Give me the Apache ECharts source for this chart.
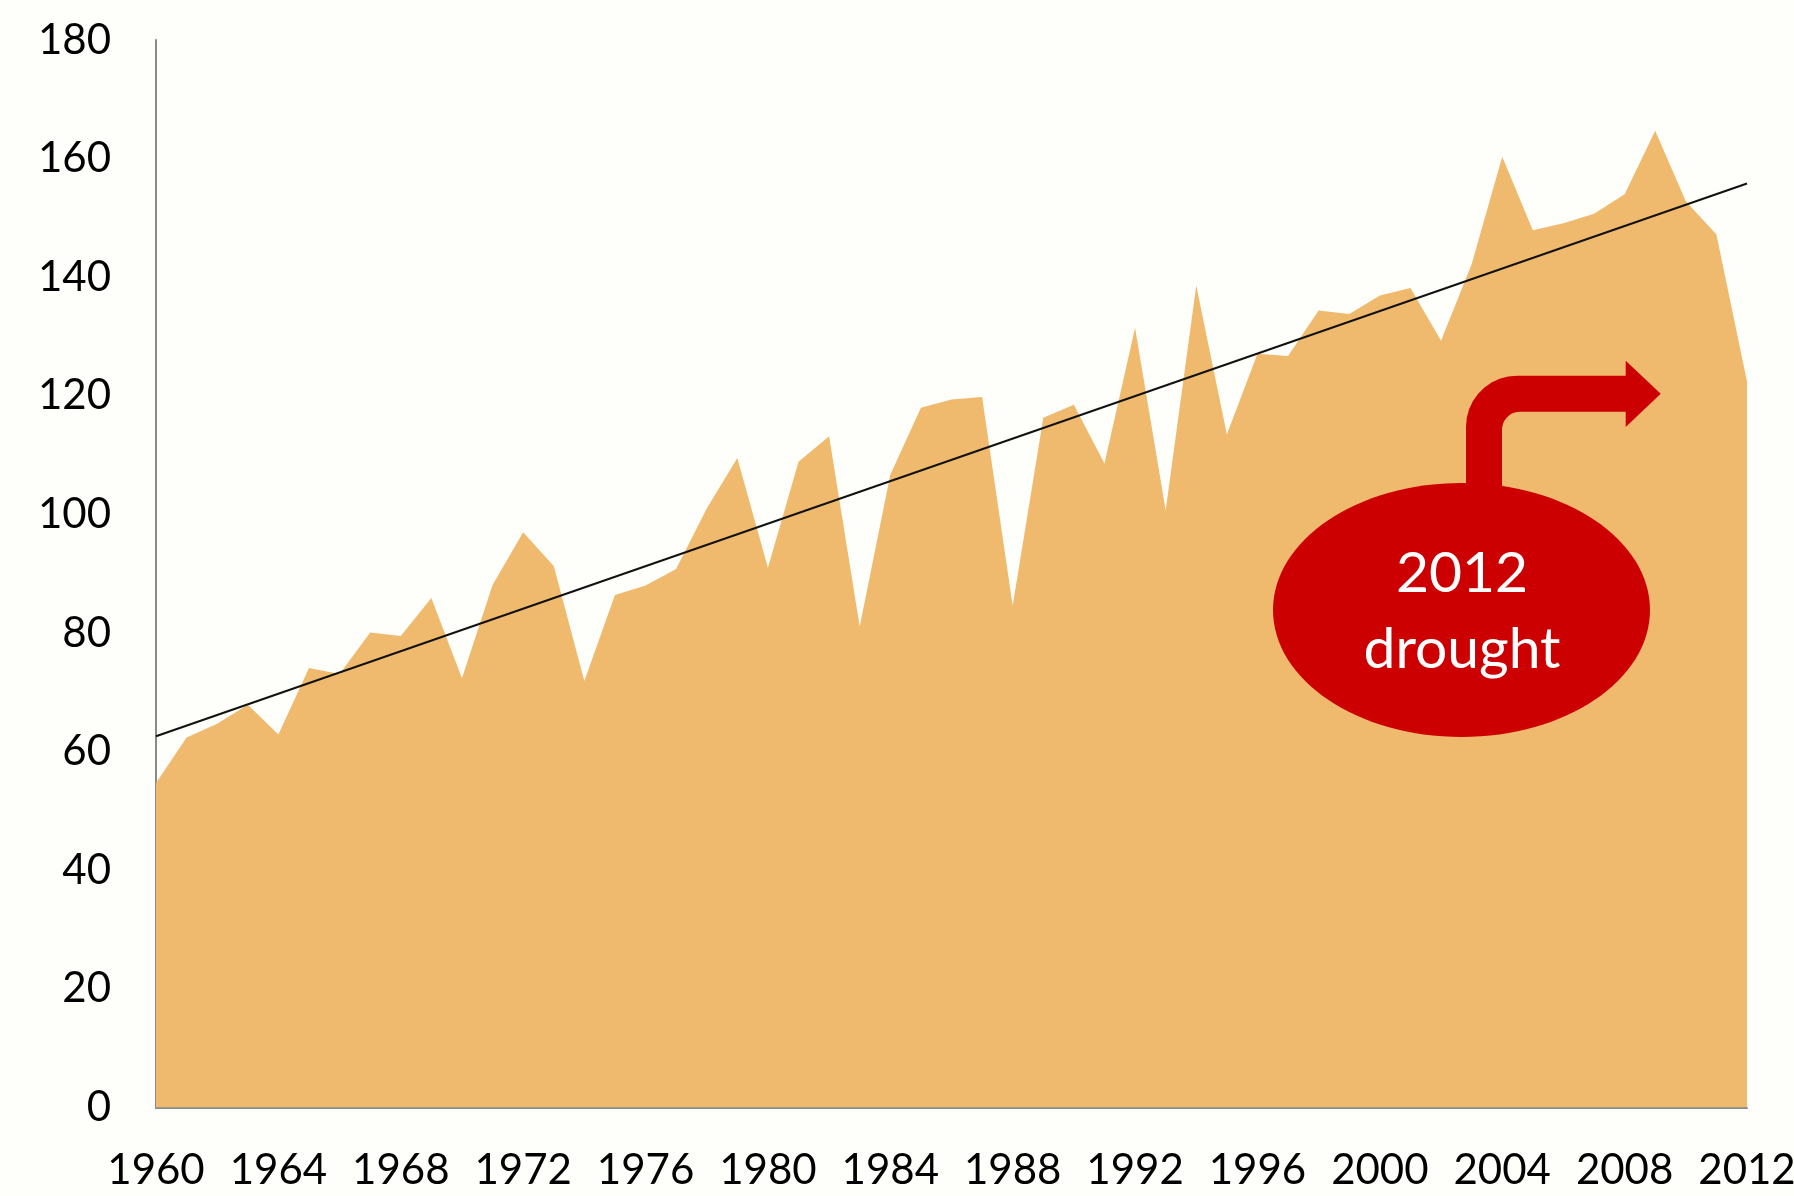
<!DOCTYPE html>
<html>
<head>
<meta charset="utf-8">
<title>Corn yield 1960-2012</title>
<style>
  html, body { margin: 0; padding: 0; background: #fefefa; }
  #main { width: 1794px; height: 1196px; }
</style>
</head>
<body>
<div id="main"></div>
<script src="https://cdn.jsdelivr.net/npm/echarts@6/dist/echarts.min.js"></script>
<script>
// yearly values
var years = [1960, 1961, 1962, 1963, 1964, 1965, 1966, 1967, 1968, 1969,
             1970, 1971, 1972, 1973, 1974, 1975, 1976, 1977, 1978, 1979,
             1980, 1981, 1982, 1983, 1984, 1985, 1986, 1987, 1988, 1989,
             1990, 1991, 1992, 1993, 1994, 1995, 1996, 1997, 1998, 1999,
             2000, 2001, 2002, 2003, 2004, 2005, 2006, 2007, 2008, 2009,
             2010, 2011, 2012];
var yields = [54.7, 62.4, 64.7, 67.9, 62.9, 74.1, 73.1, 80.1, 79.5, 85.9,
              72.4, 88.1, 97.0, 91.3, 71.9, 86.4, 88.0, 90.8, 101.0, 109.5,
              91.0, 108.9, 113.2, 81.1, 106.7, 118.0, 119.4, 119.8, 84.6, 116.3,
              118.5, 108.6, 131.5, 100.7, 138.6, 113.5, 127.1, 126.7, 134.4, 133.8,
              136.9, 138.2, 129.3, 142.2, 160.3, 147.9, 149.1, 150.7, 154.0, 164.7,
              152.8, 147.2, 122.4];
// trend line end points
var trendYears = [1960, 2012];
var trendValues = [62.6, 155.8];
var noteLines = ['2012', 'drought'];

var FONT = 'Lato, "Open Sans", sans-serif';

var areaData = years.map(function (y, i) { return [y, yields[i]]; });
var trendData = trendYears.map(function (y, i) { return [y, trendValues[i]]; });

// bent arrow outline (pixels)
function arrowPoints() {
  var pts = [];
  var xl = 1466, xr = 1502, yt = 375.7, yb = 411.7, R = 51, r = 18;
  pts.push([xl, 505]);
  var a;
  for (a = 180; a <= 270; a += 10) {
    var t = a * Math.PI / 180;
    pts.push([xl + R + R * Math.cos(t), yt + R + R * Math.sin(t)]);
  }
  pts.push([1625.7, yt]);
  pts.push([1625.7, 360.7]);
  pts.push([1660.7, 393.7]);
  pts.push([1625.7, 427]);
  pts.push([1625.7, yb]);
  for (a = 270; a >= 180; a -= 10) {
    var s = a * Math.PI / 180;
    pts.push([xr + r + r * Math.cos(s), yb + r + r * Math.sin(s)]);
  }
  pts.push([xr, 505]);
  return pts;
}

var myChart = echarts.init(document.getElementById('main'));
var option = {
  backgroundColor: '#fefefa',
  animation: false,
  grid: { left: 156, right: 47, top: 40, bottom: 88.5, outerBoundsMode: 'none', containLabel: false },
  xAxis: {
    type: 'value',
    min: 1960,
    max: 2012,
    interval: 4,
    splitLine: { show: false },
    axisTick: { show: false },
    axisLine: { show: true, lineStyle: { color: '#8a8a8a', width: 2 } },
    axisLabel: {
      margin: 42,
      color: '#000',
      fontFamily: FONT,
      fontSize: 42,
      formatter: function (v) { return String(v); }
    }
  },
  yAxis: {
    type: 'value',
    min: 0,
    max: 180,
    interval: 20,
    splitLine: { show: false },
    axisTick: { show: false },
    axisLine: { show: true, lineStyle: { color: '#8a8a8a', width: 2 } },
    axisLabel: {
      margin: 45,
      color: '#000',
      fontFamily: FONT,
      fontSize: 42
    }
  },
  series: [
    {
      name: 'Yield',
      type: 'line',
      data: areaData,
      showSymbol: false,
      lineStyle: { width: 0 },
      areaStyle: { color: '#f0ba6e', opacity: 1 },
      z: 2
    },
    {
      name: 'Trend',
      type: 'line',
      data: trendData,
      showSymbol: false,
      lineStyle: { color: '#111', width: 2 },
      z: 3
    }
  ],
  graphic: [
    {
      type: 'polygon',
      shape: { points: arrowPoints() },
      style: { fill: '#cc0000' },
      z: 10
    },
    {
      type: 'ellipse',
      shape: { cx: 1461.5, cy: 610, rx: 188.5, ry: 127 },
      style: { fill: '#cc0000' },
      z: 10
    },
    {
      type: 'text',
      x: 1462, y: 574,
      style: {
        text: noteLines[0], fill: '#fff', font: '57px ' + FONT,
        textAlign: 'center', textVerticalAlign: 'middle'
      },
      z: 11
    },
    {
      type: 'text',
      x: 1462, y: 650,
      style: {
        text: noteLines[1], fill: '#fff', font: '57px ' + FONT,
        textAlign: 'center', textVerticalAlign: 'middle'
      },
      z: 11
    }
  ]
};
myChart.setOption(option);
</script>
</body>
</html>
